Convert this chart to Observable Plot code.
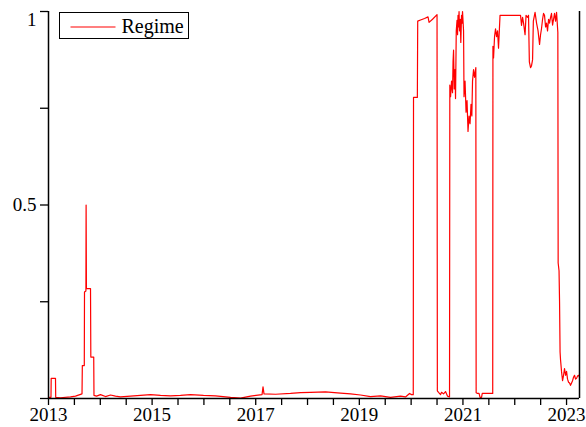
<!DOCTYPE html>
<html><head><meta charset="utf-8">
<script src="https://cdn.jsdelivr.net/npm/d3@7"></script>
<script src="https://cdn.jsdelivr.net/npm/@observablehq/plot@0.6"></script>
<style>body{margin:0;background:#fff}</style>
</head><body><div id="chart"></div>
<script>
// decimal years
const t = [
2013.000,2013.048,2013.052,2013.135,2013.139,2013.232,2013.425,2013.521,2013.647,2013.653,
2013.691,2013.695,2013.722,2013.726,2013.732,2013.811,2013.817,2013.873,2013.878,2013.927,
2014.004,2014.100,2014.197,2014.293,2014.390,2014.583,2014.776,2014.969,2015.162,2015.355,
2015.548,2015.741,2015.992,2016.224,2016.514,2016.707,2016.900,2017.122,2017.141,2017.160,
2017.382,2017.672,2017.865,2018.058,2018.347,2018.637,2018.830,2019.023,2019.216,2019.409,
2019.602,2019.795,2019.892,2019.969,2020.008,2020.041,2020.046,2020.120,2020.127,2020.181,
2020.259,2020.326,2020.346,2020.413,2020.500,2020.506,2020.529,2020.568,2020.587,2020.625,
2020.664,2020.703,2020.741,2020.747,2020.761,2020.780,2020.799,2020.809,2020.819,2020.832,
2020.847,2020.857,2020.871,2020.886,2020.896,2020.905,2020.915,2020.925,2020.934,2020.948,
2020.959,2020.973,2020.983,2020.992,2021.012,2021.021,2021.041,2021.060,2021.079,2021.098,
2021.118,2021.137,2021.156,2021.172,2021.185,2021.205,2021.224,2021.249,2021.255,2021.282,
2021.311,2021.330,2021.359,2021.373,2021.436,2021.533,2021.575,2021.579,2021.591,2021.610,
2021.629,2021.649,2021.668,2021.687,2021.716,2022.112,2022.131,2022.151,2022.170,2022.199,
2022.218,2022.247,2022.266,2022.282,2022.305,2022.324,2022.344,2022.359,2022.392,2022.421,
2022.450,2022.479,2022.498,2022.517,2022.537,2022.556,2022.575,2022.595,2022.614,2022.633,
2022.653,2022.672,2022.691,2022.710,2022.730,2022.749,2022.768,2022.788,2022.807,2022.832,
2022.838,2022.855,2022.865,2022.875,2022.884,2022.903,2022.923,2022.942,2022.961,2022.981,
2023.000,2023.019,2023.039,2023.058,2023.077,2023.097,2023.116,2023.135,2023.154,2023.174,
2023.193,2023.212,2023.232,2023.251
];
const regime = [
0.003,0.003,0.052,0.052,0.003,0.002,0.004,0.006,0.012,0.085,
0.085,0.275,0.278,0.500,0.284,0.284,0.107,0.107,0.008,0.006,
0.010,0.005,0.009,0.006,0.004,0.006,0.008,0.010,0.008,0.007,
0.008,0.010,0.008,0.007,0.003,0.001,0.006,0.010,0.030,0.012,
0.011,0.013,0.015,0.016,0.017,0.014,0.012,0.009,0.005,0.007,
0.003,0.006,0.004,0.013,0.010,0.010,0.778,0.778,0.975,0.978,
0.982,0.986,0.972,0.980,0.992,0.020,0.016,0.010,0.016,0.012,
0.018,0.006,0.004,0.810,0.780,0.820,0.790,0.870,0.900,0.800,
0.850,0.775,0.950,0.977,0.940,0.990,0.960,1.000,0.950,0.980,
0.920,0.990,0.970,1.000,0.950,0.780,0.820,0.740,0.770,0.690,
0.730,0.710,0.760,0.730,0.820,0.850,0.830,0.855,0.015,0.013,
0.013,0.003,0.003,0.013,0.013,0.013,0.013,0.910,0.880,0.935,
0.955,0.935,0.950,0.905,0.990,0.990,0.964,0.985,0.970,0.940,
0.990,0.985,0.990,0.870,0.855,0.860,0.875,0.975,0.998,0.970,
0.950,0.915,0.940,0.956,0.980,0.995,0.990,0.960,0.970,0.950,
0.980,0.970,0.985,0.995,0.965,0.980,0.995,0.975,0.998,0.946,
0.350,0.330,0.250,0.120,0.100,0.070,0.046,0.060,0.077,0.060,
0.070,0.050,0.042,0.040,0.034,0.040,0.046,0.055,0.060,0.050,
0.052,0.058,0.060,0.055
];
const xTicks = d3.range(2013, 2023.01, 0.5);
const xLabels = [2013, 2015, 2017, 2019, 2021, 2023];
const yTicks = [0, 0.25, 0.5, 0.75, 1];
const seriesName = "Regime";
const xMax = 2023.25;

const data = t.map((d, i) => ({t: d, v: regime[i]}));

const chart = Plot.plot({
  width: 586, height: 427,
  marginLeft: 48, marginRight: 7, marginTop: 11, marginBottom: 29,
  style: {fontFamily: "'Liberation Serif', 'Times New Roman', serif", fontSize: "19px", background: "white", color: "black", overflow: "visible"},
  x: {domain: [2013, xMax]},
  y: {domain: [0, 1]},
  marks: [
    Plot.axisX({ticks: xTicks, tickSize: 7, tickPadding: 2, strokeWidth: 1.3, label: null,
      tickFormat: d => xLabels.includes(d) ? String(d) : "", fontSize: 19}),
    Plot.axisY({ticks: yTicks, tickSize: 8, strokeWidth: 1.3, label: null, tickFormat: () => ""}),
    Plot.axisY({ticks: [0.5], tickSize: 0, tickPadding: 12, fontSize: 19, label: null, tickFormat: d => String(d)}),
    Plot.axisY({ticks: [1], tickSize: 0, tickPadding: 12, dy: 8, fontSize: 19, label: null, tickFormat: d => String(d)}),
    Plot.line(data, {x: "t", y: "v", stroke: "red", strokeWidth: 1.2}),
    Plot.ruleX([2013, xMax], {stroke: "black", strokeWidth: 1.5}),
    Plot.ruleY([0], {stroke: "black", strokeWidth: 1.5})
  ]
});

// legend inside plot area, top-left
const svg = d3.select(chart);
const lg = svg.append("g").attr("transform", "translate(59.5,12.5)");
lg.append("rect").attr("width", 129).attr("height", 26).attr("fill", "white").attr("stroke", "black").attr("stroke-width", 1);
lg.append("line").attr("x1", 11).attr("x2", 56).attr("y1", 14.5).attr("y2", 14.5).attr("stroke", "red").attr("stroke-width", 1.2);
lg.append("text").attr("x", 62).attr("y", 20.5).attr("text-anchor", "start").attr("font-size", 20).attr("fill", "black").text(seriesName);

document.getElementById("chart").append(chart);
</script>
</body></html>
